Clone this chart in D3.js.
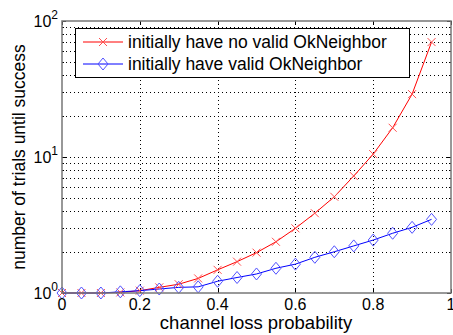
<!DOCTYPE html>
<html>
<head>
<meta charset="utf-8">
<script src="https://cdn.jsdelivr.net/npm/d3@7"></script>
<style>
  body { margin: 0; background: #fff; }
  svg { display: block; font-family: "Liberation Sans", Arial, sans-serif; }
</style>
</head>
<body>
<div id="chart"></div>
<script>
// data
const lossProb = [0, 0.05, 0.1, 0.15, 0.2, 0.25, 0.3, 0.35, 0.4, 0.45, 0.5, 0.55, 0.6, 0.65, 0.7, 0.75, 0.8, 0.85, 0.9, 0.95];
const noValid = [1, 1, 1, 1.01, 1.04, 1.1, 1.16, 1.28, 1.48, 1.7, 1.98, 2.38, 2.99, 3.86, 5.1, 7.25, 10.5, 16.4, 29, 70];
const hasValid = [1, 1, 1, 1.02, 1.04, 1.07, 1.1, 1.11, 1.22, 1.3, 1.38, 1.52, 1.63, 1.83, 2.01, 2.22, 2.45, 2.75, 3.04, 3.48];
const xTicks = [0, 0.2, 0.4, 0.6, 0.8, 1];
const yTicks = [1, 10, 100];
const legendLabels = ["initially have no valid OkNeighbor", "initially have valid OkNeighbor"];

const width = 453, height = 335;
const margin = { top: 21, right: 2, bottom: 42, left: 62 };

const svg = d3.select("#chart").append("svg")
  .attr("width", width)
  .attr("height", height);

const x = d3.scaleLinear().domain([0, 1]).range([margin.left, width - margin.right]);
const y = d3.scaleLog().domain([1, 100]).range([height - margin.bottom, margin.top]);

// grid (dotted)
const minor = [];
for (let d = 1; d < 100; d *= 10) {
  for (let k = 1; k <= 10; k++) minor.push(d * k);
}
const grid = svg.append("g").attr("stroke", "#000").attr("stroke-dasharray", "1,3").attr("stroke-width", 1);
grid.selectAll(".gy").data(minor.filter(v => v > 1 && v < 100)).join("line")
  .attr("x1", x(0)).attr("x2", x(1))
  .attr("y1", d => Math.round(y(d)) + 0.5).attr("y2", d => Math.round(y(d)) + 0.5);
grid.selectAll(".gx").data(xTicks.filter(v => v > 0 && v < 1)).join("line")
  .attr("x1", d => Math.round(x(d)) + 0.5).attr("x2", d => Math.round(x(d)) + 0.5)
  .attr("y1", y(1)).attr("y2", y(100));

// ticks inside the box
const ticks = svg.append("g").attr("stroke", "#000");
xTicks.forEach(v => {
  const px = Math.round(x(v)) + 0.5;
  ticks.append("line").attr("x1", px).attr("x2", px).attr("y1", y(1)).attr("y2", y(1) - 4);
  ticks.append("line").attr("x1", px).attr("x2", px).attr("y1", y(100)).attr("y2", y(100) + 4);
});
minor.forEach(v => {
  const py = Math.round(y(v)) + 0.5;
  const len = yTicks.includes(v) ? 4 : 2;
  ticks.append("line").attr("x1", x(0)).attr("x2", x(0) + len).attr("y1", py).attr("y2", py);
  ticks.append("line").attr("x1", x(1)).attr("x2", x(1) - len).attr("y1", py).attr("y2", py);
});

// lines and markers
const line = d3.line().x((d, i) => x(lossProb[i])).y(d => y(d));
svg.append("path").datum(noValid).attr("d", line).attr("fill", "none").attr("stroke", "#ff0000").attr("stroke-width", 1);
svg.append("path").datum(hasValid).attr("d", line).attr("fill", "none").attr("stroke", "#0000ff").attr("stroke-width", 1);

function crossMark(g, cx, cy) {
  g.append("path").attr("d", `M${cx - 4},${cy - 4}L${cx + 4},${cy + 4}M${cx - 4},${cy + 4}L${cx + 4},${cy - 4}`)
    .attr("stroke", "#ff5050").attr("stroke-width", 1).attr("fill", "none");
}
function diamondMark(g, cx, cy) {
  g.append("path").attr("d", `M${cx},${cy - 6}L${cx + 5},${cy}L${cx},${cy + 6}L${cx - 5},${cy}Z`)
    .attr("stroke", "#5050ff").attr("stroke-width", 1).attr("fill", "none");
}
const marks = svg.append("g");
noValid.forEach((v, i) => crossMark(marks, x(lossProb[i]), y(v)));
hasValid.forEach((v, i) => diamondMark(marks, x(lossProb[i]), y(v)));

// box
svg.append("rect")
  .attr("x", x(0)).attr("y", y(100))
  .attr("width", x(1) - x(0)).attr("height", y(1) - y(100))
  .attr("fill", "none").attr("stroke", "#777").attr("stroke-width", 1.5);

// tick labels
svg.append("g").selectAll("text").data(xTicks).join("text")
  .attr("x", d => x(d)).attr("y", y(1) + 17)
  .attr("text-anchor", "middle").attr("font-size", 16)
  .text(d => d === 0 || d === 1 ? d : d.toFixed(1));

const yl = svg.append("g").selectAll("text").data(yTicks).join("text")
  .attr("x", x(0) - 4).attr("y", d => y(d) + 6)
  .attr("text-anchor", "end").attr("font-size", 16);
yl.append("tspan").text("10");
yl.append("tspan").attr("font-size", 12).attr("dy", -8).text(d => Math.round(Math.log10(d)));

// axis titles
svg.append("text")
  .attr("x", 256).attr("y", 329)
  .attr("text-anchor", "middle").attr("font-size", 18.5)
  .text("channel loss probability");
svg.append("text")
  .attr("transform", `translate(25,${(y(1) + y(100)) / 2}) rotate(-90)`)
  .attr("text-anchor", "middle").attr("font-size", 17.5)
  .text("number of trials until success");

// legend
const lg = svg.append("g");
lg.append("rect").attr("x", 75.5).attr("y", 28.5).attr("width", 334).attr("height", 49)
  .attr("fill", "#fff").attr("stroke", "#000").attr("stroke-width", 1);
legendLabels.forEach((label, i) => {
  const ly = 42 + i * 22;
  lg.append("line").attr("x1", 83).attr("x2", 123).attr("y1", ly).attr("y2", ly)
    .attr("stroke", i === 0 ? "#ff0000" : "#0000ff");
  if (i === 0) crossMark(lg, 103, ly); else diamondMark(lg, 103, ly);
  lg.append("text").attr("x", 128).attr("y", ly + 6).attr("font-size", 17.5).text(label);
});
</script>
</body>
</html>
